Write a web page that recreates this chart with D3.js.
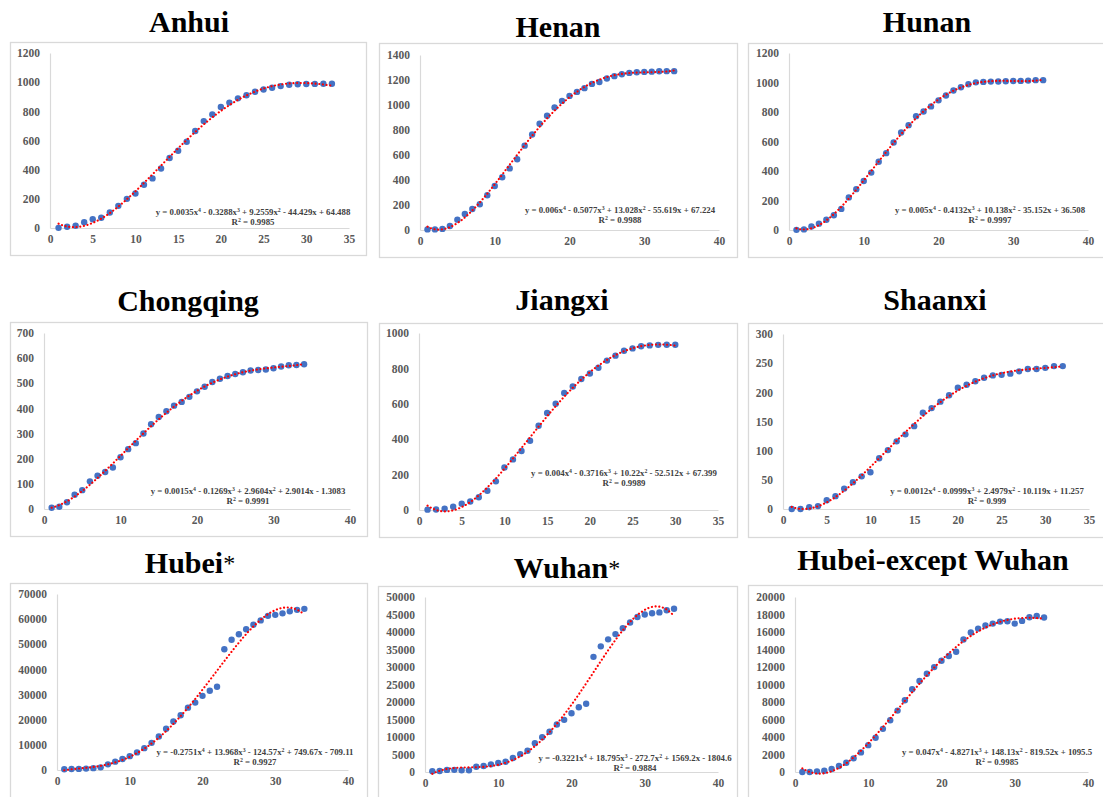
<!DOCTYPE html>
<html>
<head>
<meta charset="utf-8">
<script src="https://cdn.jsdelivr.net/npm/d3@7/dist/d3.min.js"></script>
<style>
  body { margin: 0; background: #fff; }
  text { font-family: "Liberation Serif", "Times New Roman", serif; }
</style>
</head>
<body>
<div id="chart"></div>
<script>
// ---- data ----
const titles = ["Anhui", "Henan", "Hunan", "Chongqing", "Jiangxi", "Shaanxi", "Hubei*", "Wuhan*", "Hubei-except Wuhan"];

const anhui = [1, 9, 15, 39, 60, 70, 106, 152, 200, 237, 297, 340, 408, 480, 530, 591, 665, 733, 779, 830, 860, 889, 910, 934, 950, 962, 973, 982, 986, 987, 988, 989, 989];
const henan = [5, 5, 9, 32, 83, 128, 168, 206, 278, 352, 422, 493, 566, 675, 764, 851, 914, 981, 1033, 1073, 1105, 1135, 1169, 1184, 1212, 1231, 1246, 1257, 1262, 1265, 1267, 1270, 1271, 1271];
const hunan = [1, 4, 24, 43, 69, 100, 143, 221, 277, 332, 389, 463, 521, 593, 661, 711, 772, 803, 838, 879, 912, 946, 968, 988, 1001, 1004, 1006, 1007, 1008, 1010, 1011, 1013, 1016, 1016];
const chongqing = [5, 9, 27, 57, 75, 110, 132, 147, 165, 206, 238, 262, 300, 337, 366, 389, 411, 426, 446, 468, 486, 505, 518, 529, 537, 544, 551, 553, 555, 560, 567, 572, 573, 576];
const jiangxi = [2, 3, 7, 18, 36, 48, 72, 109, 162, 240, 286, 333, 391, 476, 548, 600, 661, 698, 740, 771, 804, 844, 872, 900, 913, 925, 930, 933, 934, 934];
const shaanxi = [0, 0, 3, 5, 15, 22, 35, 46, 56, 63, 87, 101, 116, 128, 142, 165, 173, 184, 195, 208, 213, 219, 225, 229, 230, 232, 236, 240, 240, 242, 245, 245];
const hubei = [270, 375, 444, 549, 729, 1052, 2250, 3316, 4400, 5500, 7000, 8700, 10800, 13300, 16400, 19300, 21800, 24800, 26800, 29500, 31500, 33100, 48000, 51800, 54000, 56000, 57800, 59500, 61300, 61700, 62300, 63100, 63700, 64100];
const wuhan = [250, 300, 600, 620, 500, 520, 1520, 1700, 2180, 2560, 2940, 3980, 5120, 6070, 8250, 9960, 11480, 13570, 14900, 16800, 18500, 19500, 32900, 35900, 37900, 39400, 41100, 42700, 44300, 45000, 45350, 45600, 46200, 46650];
const hubeiExWuhan = [0, 0, 76, 150, 340, 680, 1060, 1560, 2240, 3070, 3910, 4930, 5920, 7020, 8200, 9450, 10400, 11230, 11990, 12710, 13250, 13740, 15140, 15940, 16390, 16740, 16960, 17190, 17230, 16960, 17270, 17690, 17840, 17650];

const series = [anhui, henan, hunan, chongqing, jiangxi, shaanxi, hubei, wuhan, hubeiExWuhan];

const xMax = [35, 40, 40, 40, 35, 35, 40, 40, 40];
const xStep = [5, 10, 10, 10, 5, 5, 10, 10, 10];
const yMax = [1200, 1400, 1200, 700, 1000, 300, 70000, 50000, 20000];
const yStep = [200, 200, 200, 100, 200, 50, 10000, 5000, 2000];

const equations = [
  "y = 0.0035x^4 - 0.3288x^3 + 9.2559x^2 - 44.429x + 64.488",
  "y = 0.006x^4 - 0.5077x^3 + 13.028x^2 - 55.619x + 67.224",
  "y = 0.005x^4 - 0.4132x^3 + 10.138x^2 - 35.152x + 36.508",
  "y = 0.0015x^4 - 0.1269x^3 + 2.9604x^2 + 2.9014x - 1.3083",
  "y = 0.004x^4 - 0.3716x^3 + 10.22x^2 - 52.512x + 67.399",
  "y = 0.0012x^4 - 0.0999x^3 + 2.4979x^2 - 10.119x + 11.257",
  "y = -0.2751x^4 + 13.968x^3 - 124.57x^2 + 749.67x - 709.11",
  "y = -0.3221x^4 + 18.795x^3 - 272.7x^2 + 1569.2x - 1804.6",
  "y = 0.047x^4 - 4.8271x^3 + 148.13x^2 - 819.52x + 1095.5"
];
const rSquared = ["0.9985", "0.9988", "0.9997", "0.9991", "0.9989", "0.999", "0.9927", "0.9884", "0.9985"];

// ---- layout (page pixels) ----
// box: frame, px/py: pixel range of x and y axes, title/eq: centre x and baseline
const layout = [
  { box: [10, 42, 366, 255],   px: [50, 349],   py: [228, 53],  title: [189, 32],  eq: [253, 215] },
  { box: [379, 43, 737, 257],  px: [420, 719],  py: [230, 55],  title: [558, 37],  eq: [620, 213] },
  { box: [748, 43, 1110, 257], px: [789, 1088], py: [230, 53],  title: [927, 32],  eq: [990, 213] },
  { box: [10, 322, 367, 536],  px: [44, 350],   py: [509, 333], title: [188, 311], eq: [248, 494] },
  { box: [379, 323, 737, 537], px: [419, 718],  py: [510, 333], title: [562, 310], eq: [624, 476] },
  { box: [748, 323, 1110, 537],px: [783, 1089], py: [509, 334], title: [935, 310], eq: [987, 494] },
  { box: [10, 583, 367, 805],  px: [57, 348],   py: [770, 594], title: [190, 573], eq: [255, 755] },
  { box: [378, 586, 737, 805], px: [425, 718],  py: [772, 597], title: [567, 578], eq: [635, 761] },
  { box: [748, 585, 1110, 805],px: [795, 1088], py: [772, 597], title: [933, 570], eq: [997, 755] }
];

const svg = d3.select("#chart").append("svg")
  .attr("width", 1103)
  .attr("height", 797);

// least squares polynomial (the Excel trendline)
function polyfit(xs, ys, deg) {
  const s = d3.max(xs);
  const n = deg + 1;
  const A = d3.range(n).map(() => new Array(n + 1).fill(0));
  xs.forEach((x, i) => {
    const t = x / s;
    for (let r = 0; r < n; r++) {
      for (let c = 0; c < n; c++) A[r][c] += Math.pow(t, r + c);
      A[r][n] += ys[i] * Math.pow(t, r);
    }
  });
  for (let k = 0; k < n; k++) {
    let p = k;
    for (let r = k + 1; r < n; r++) if (Math.abs(A[r][k]) > Math.abs(A[p][k])) p = r;
    [A[k], A[p]] = [A[p], A[k]];
    for (let r = 0; r < n; r++) {
      if (r === k) continue;
      const f = A[r][k] / A[k][k];
      for (let c = k; c <= n; c++) A[r][c] -= f * A[k][c];
    }
  }
  const coef = A.map((row, k) => row[n] / row[k]);
  return x => coef.reduce((acc, c, k) => acc + c * Math.pow(x / s, k), 0);
}

// writes "x^4" style strings with small raised digits
function writeSup(sel, str) {
  const parts = str.split(/\^(\d)/);
  let raised = false;
  parts.forEach((p, k) => {
    if (!p) return;
    const sup = k % 2 === 1;
    const t = sel.append("tspan").text(p);
    if (sup) { t.attr("font-size", 5.8).attr("dy", -3); raised = true; }
    else if (raised) { t.attr("dy", 3); raised = false; }
  });
}

series.forEach((values, i) => {
  const L = layout[i];
  const g = svg.append("g");

  g.append("rect")
    .attr("x", L.box[0] + 0.5).attr("y", L.box[1] + 0.5)
    .attr("width", L.box[2] - L.box[0]).attr("height", L.box[3] - L.box[1])
    .attr("fill", "#fff").attr("stroke", "#d9d9d9").attr("stroke-width", 1.3);

  const title = g.append("text")
    .attr("x", L.title[0]).attr("y", L.title[1])
    .attr("text-anchor", "middle")
    .attr("font-size", 30).attr("font-weight", "bold").attr("fill", "#000");
  const name = titles[i];
  if (name.endsWith("*")) {
    title.append("tspan").text(name.slice(0, -1));
    title.append("tspan").text("*").attr("font-weight", "normal").attr("font-size", 24).attr("dy", -2);
  } else {
    title.text(name);
  }

  const x = d3.scaleLinear().domain([0, xMax[i]]).range(L.px);
  const y = d3.scaleLinear().domain([0, yMax[i]]).range(L.py);

  const yAxis = g.append("g")
    .attr("transform", `translate(${L.px[0]},0)`)
    .call(d3.axisLeft(y).tickValues(d3.range(0, yMax[i] + 1, yStep[i])).tickSize(0).tickPadding(10).tickFormat(d3.format("d")));
  const xAxis = g.append("g")
    .attr("transform", `translate(0,${L.py[0]})`)
    .call(d3.axisBottom(x).tickValues(d3.range(0, xMax[i] + 1, xStep[i])).tickSize(0).tickPadding(7).tickFormat(d3.format("d")));

  [yAxis, xAxis].forEach(a => {
    a.select(".domain").attr("stroke", "#d9d9d9").attr("stroke-width", 1.2);
    a.selectAll("text")
      .attr("font-family", "'Liberation Serif', 'Times New Roman', serif")
      .attr("font-size", 11.5).attr("font-weight", "bold").attr("fill", "#595959");
  });

  const xs = values.map((v, k) => k + 1);

  g.append("g").selectAll("circle")
    .data(values)
    .join("circle")
    .attr("cx", (d, k) => x(xs[k]))
    .attr("cy", d => y(d))
    .attr("r", 3.2)
    .attr("fill", "#4472C4");

  const fit = polyfit(xs, values, 4);
  const tx = d3.range(1, values.length + 0.001, 0.1);
  g.append("path")
    .datum(tx)
    .attr("d", d3.line().x(d => x(d)).y(d => y(fit(d))))
    .attr("fill", "none")
    .attr("stroke", "#ff0000")
    .attr("stroke-width", 2.1)
    .attr("stroke-linecap", "round")
    .attr("stroke-dasharray", "0.1 3.6");

  const eq = g.append("text")
    .attr("x", L.eq[0]).attr("y", L.eq[1])
    .attr("text-anchor", "middle")
    .attr("font-size", 8.8).attr("font-weight", "bold").attr("fill", "#404040");
  writeSup(eq, equations[i]);

  const r2 = g.append("text")
    .attr("x", L.eq[0]).attr("y", L.eq[1] + 10)
    .attr("text-anchor", "middle")
    .attr("font-size", 8.8).attr("font-weight", "bold").attr("fill", "#404040");
  writeSup(r2, "R^2 = " + rSquared[i]);
});
</script>
</body>
</html>
